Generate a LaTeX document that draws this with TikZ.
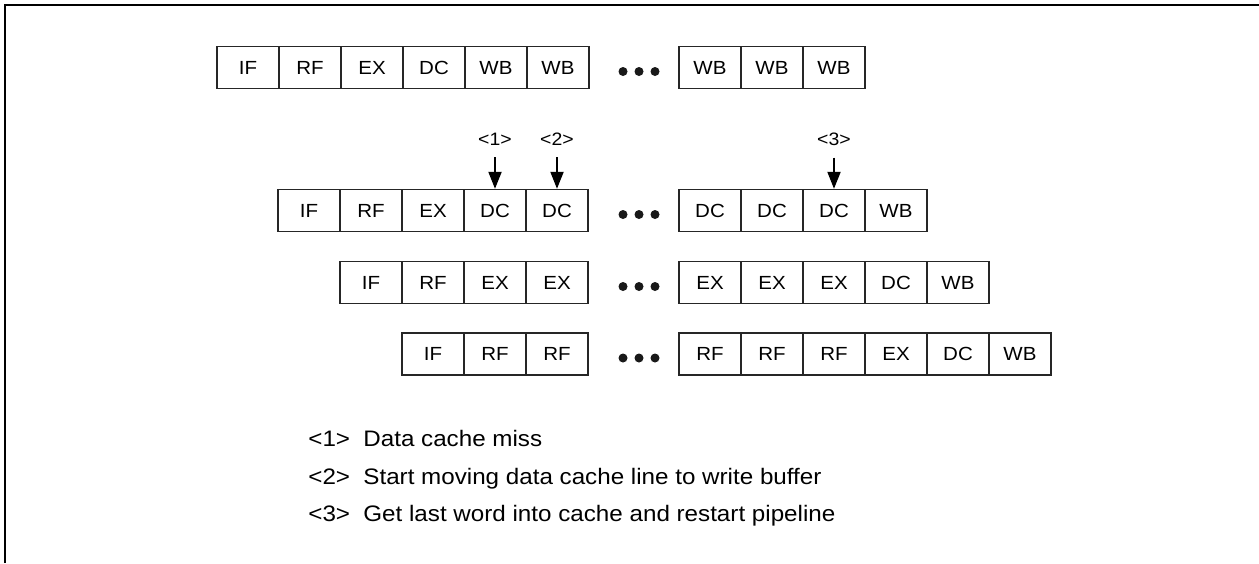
\documentclass[tikz,border=0pt]{standalone}
\usepackage{fontspec}
\setmainfont[FakeStretch=1.08]{Liberation Sans}
\usetikzlibrary{arrows.meta}

\tikzset{
  stage/.style={draw=black!85, line width=0.7pt, minimum width=31pt, minimum height=21pt,
    inner sep=0pt, font=\fontsize{9.5}{11}\selectfont},
  mark label/.style={inner sep=0pt, anchor=base, font=\fontsize{9}{10}\selectfont},
  pointer/.style={line width=1pt, -{Triangle[length=8.5pt,width=6.5pt]}, shorten <=6pt},
  legend/.style={inner sep=0pt, anchor=base west, font=\fontsize{11.2}{13}\selectfont}
}

\begin{document}
\begin{tikzpicture}[x=0.5pt, y=-0.5pt]
\useasboundingbox (0,0) rectangle (1259,563);
% open frame
\draw[line width=1.3pt] (5,563) -- (5,5) -- (1259,5);

% instruction 1
\foreach \s [count=\i from 0] in {IF,RF,EX,DC,WB,WB}
  \node[stage] (r1a\i) at (248+62*\i,67.5) {\s};
\foreach \s [count=\i from 0] in {WB,WB,WB}
  \node[stage] (r1b\i) at (710+62*\i,67.5) {\s};

% instruction 2 (the load that misses)
\foreach \s [count=\i from 0] in {IF,RF,EX,DC,DC}
  \node[stage] (r2a\i) at (309+62*\i,210.5) {\s};
\foreach \s [count=\i from 0] in {DC,DC,DC,WB}
  \node[stage] (r2b\i) at (710+62*\i,210.5) {\s};

% instruction 3
\foreach \s [count=\i from 0] in {IF,RF,EX,EX}
  \node[stage] (r3a\i) at (371+62*\i,282.5) {\s};
\foreach \s [count=\i from 0] in {EX,EX,EX,DC,WB}
  \node[stage] (r3b\i) at (710+62*\i,282.5) {\s};

% instruction 4
\foreach \s [count=\i from 0] in {IF,RF,RF}
  \node[stage] (r4a\i) at (433+62*\i,354) {\s};
\foreach \s [count=\i from 0] in {RF,RF,RF,EX,DC,WB}
  \node[stage] (r4b\i) at (710+62*\i,354) {\s};

% dots between the two halves
\foreach \y in {71.5,214.5,286.5,358}
  \foreach \x in {623,639,655} \fill[black!90] (\x,\y) circle (4.5);

% event marks
\node[mark label] (m1) at (495,145) {<1>};
\node[mark label] (m2) at (557,145) {<2>};
\node[mark label] (m3) at (834,145) {<3>};
\draw[pointer] (m1.south) -- (r2a3.north);
\draw[pointer] (m2.south) -- (r2a4.north);
\draw[pointer] (m3.south) -- (r2b2.north);

% legend
\node[legend] (k1) at (308,446.5) {<1>};
\node[legend] (d1) at (363,446.5) {Data cache miss};
\node[legend] (k2) at (308,484) {<2>};
\node[legend] (d2) at (363,484) {Start moving data cache line to write buffer};
\node[legend] (k3) at (308,521.5) {<3>};
\node[legend] (d3) at (363,521.5) {Get last word into cache and restart pipeline};
\end{tikzpicture}
\end{document}
